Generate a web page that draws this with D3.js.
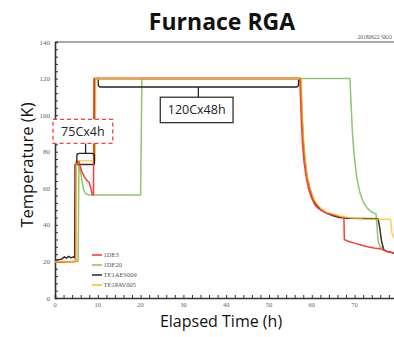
<!DOCTYPE html>
<html><head><meta charset="utf-8">
<script src="https://cdn.jsdelivr.net/npm/d3@7"></script>
<style>html,body{margin:0;padding:0;background:#fff;}svg{display:block;}</style>
</head><body>
<svg id="c" width="394" height="337"></svg>
<script>
// ---- data (time in h, temperature in K) ----
const seriesNames = ["1DE3", "1DE20", "TE1AES009", "TE1PAV005"];
const seriesColors = ["#ff3b3b", "#8cc774", "#333333", "#ffc21a"];
const red1DE3 = [[0,19.5],[1.5,19.5],[4.8,20],[4.9,74],[5.6,75],[5.9,72],[6.3,69],[6.8,66.5],[7.4,64.5],[8.0,63],[8.4,60],[8.7,56.5],[9.0,56.5],[9.1,120],[57.2,120],[57.5,100],[57.8,85],[58.2,74],[58.7,66],[59.2,60],[59.9,55],[60.7,51],[61.5,49],[62.5,47.5],[63.5,46.5],[65,45.5],[66.5,44.5],[67.5,44],[67.6,32],[68.5,31],[70,30],[71.5,29],[73,28],[74.5,27.3],[76,27],[77,26],[78,25],[80,24.5]];
const green1DE20 = [[0,20],[5.4,20],[5.6,74],[5.9,70],[6.3,64],[6.7,59],[7.2,57],[8,56.3],[20,56.3],[20.3,120],[68.9,120],[69.2,105],[69.5,90],[69.9,78],[70.5,66],[71.2,58],[72,52.5],[73,49],[74,47],[75,46],[75.2,40],[75.5,31],[75.9,28],[76.5,27.5]];
const blackTE1AES009 = [[0,20.5],[1,21],[1.7,21.5],[2.2,22.5],[2.7,21.8],[3.2,22.8],[3.7,22],[4.3,22.5],[4.6,22],[4.7,73],[9.2,73],[9.3,120],[57.4,120],[57.7,100],[58.0,86],[58.4,75],[58.9,66],[59.5,60],[60.3,54],[61,51],[62,48.5],[63.5,46.3],[65,45],[66.5,44],[68.3,43.6],[72,43.5],[75.5,43.3],[75.9,38],[76.3,31],[76.8,26.5],[77.5,25.5],[78.5,25],[80,24]];
const yellowTE1PAV005 = [[0,19.8],[4.9,20],[5.0,75],[9.4,75],[9.5,120],[57.5,120],[57.8,100],[58.1,86],[58.5,75],[59,66],[59.6,60],[60.4,54.5],[61.2,51.5],[62.2,49],[63.5,47],[65,46],[66.5,45],[68.5,44],[72,43.2],[76,43],[78.4,43],[78.7,36],[79.1,33],[80,32]];
const xTicks = [0,10,20,30,40,50,60,70];
const yTicks = [0,20,40,60,80,100,120,140];
const titleText = "Furnace RGA";
const xLabel = "Elapsed Time (h)";
const yLabel = "Temperature (K)";
const stamp = "20180622 SKO";
const ann75 = {label:"75Cx4h", box:[-0.47,13.5,97.7,84.6], br:[5.1,9.2,79.1,73.5]};
const ann120 = {label:"120Cx48h", box:[24.6,41.6,109.8,95.9], br:[10.1,56.9,115.4,119.4]};

const svg = d3.select("#c");
const x = d3.scaleLinear().domain([0,80]).range([55, 55 + 4.28*80]);
const y = d3.scaleLinear().domain([0,140]).range([298, 42]);

// title
svg.append("text").attr("x",222).attr("y",30).attr("text-anchor","middle")
  .attr("font-family","'Open Sans', sans-serif").attr("font-weight",700).attr("font-size",23)
  .attr("fill","#111").text(titleText);

// stamp
svg.append("text").attr("x",392).attr("y",38.5).attr("text-anchor","end")
  .attr("font-family","'Liberation Serif', serif").attr("font-size",5.5).attr("fill","#555").text(stamp);

// frame top line
svg.append("line").attr("x1",x(0)).attr("x2",394).attr("y1",y(140)).attr("y2",y(140))
  .attr("stroke","#555").attr("stroke-width",1.2);

// axes
const xAxis = d3.axisBottom(x).tickValues(d3.range(0,81,2)).tickSize(-3).tickFormat("");
const gx = svg.append("g").attr("transform",`translate(0,${y(0)})`).call(xAxis);
const yAxis = d3.axisLeft(y).tickValues(d3.range(0,141,4)).tickSize(-3).tickFormat("");
const gy = svg.append("g").attr("transform",`translate(${x(0)},0)`).call(yAxis);
[gx,gy].forEach(g=>{
  g.select(".domain").attr("stroke","#333").attr("stroke-width",1.6);
  g.selectAll(".tick line").attr("stroke","#333").attr("stroke-width",1);
});
svg.selectAll(".xl").data(xTicks).join("text").attr("class","xl")
  .attr("x",d=>x(d)).attr("y",y(0)+9).attr("text-anchor","middle")
  .attr("font-family","'Liberation Serif', serif").attr("font-size",6.5).attr("fill","#666").text(d=>d);
svg.selectAll(".yl").data(yTicks).join("text").attr("class","yl")
  .attr("x",x(0)-5).attr("y",d=>y(d)+2.5).attr("text-anchor","end")
  .attr("font-family","'Liberation Serif', serif").attr("font-size",7).attr("fill","#666").text(d=>d);

// axis titles
svg.append("text").attr("x",221).attr("y",327).attr("text-anchor","middle")
  .attr("font-family","'Open Sans', sans-serif").attr("font-size",16).attr("fill","#111").text(xLabel);
svg.append("text").attr("transform","translate(33,165) rotate(-90)").attr("text-anchor","middle")
  .attr("font-family","'Open Sans', sans-serif").attr("font-size",16.5).attr("fill","#111").text(yLabel);

// series
const line = d3.line().x(d=>x(d[0])).y(d=>y(d[1]));
const allSeries = [green1DE20, blackTE1AES009, red1DE3, yellowTE1PAV005];
const order = [1,2,0,3];
allSeries.forEach((s,i)=>{
  const k = order[i];
  svg.append("path").datum(s).attr("d",line).attr("fill","none")
    .attr("stroke",seriesColors[k]).attr("stroke-width",1.5)
    .attr("stroke-opacity", k===3 ? 0.75 : 1).attr("stroke-linejoin","round");
});

// legend
const lg = svg.append("g");
seriesNames.forEach((n,i)=>{
  const yy = 255 + i*10;
  lg.append("line").attr("x1",92).attr("x2",102).attr("y1",yy).attr("y2",yy)
    .attr("stroke",seriesColors[i]).attr("stroke-width",1.6);
  lg.append("text").attr("x",103.5).attr("y",yy+2.3).attr("font-family","'Liberation Serif', serif")
    .attr("font-size",6.5).attr("fill","#555").text(n);
});

// annotations
function bracket(a, up){
  const [t0,t1,kb,ke] = a.br;
  const x0=x(t0), x1=x(t1), yb=y(kb), ye=y(ke), xm=(x0+x1)/2;
  const r = 2.5*(ye>yb?1:-1);
  const p = `M${x0},${ye} L${x0},${yb+r} Q${x0},${yb} ${x0+2.5},${yb} L${x1-2.5},${yb} Q${x1},${yb} ${x1},${yb+r} L${x1},${ye}`;
  svg.append("path").attr("d",p).attr("fill","none").attr("stroke","#222").attr("stroke-width",1.3);
  const bx = a.box;
  const stemEnd = up ? y(bx[3]) : y(bx[2]);
  svg.append("line").attr("x1",xm).attr("x2",xm).attr("y1",yb).attr("y2",stemEnd).attr("stroke","#222").attr("stroke-width",1.3);
}
function box(a, dashed){
  const bx=a.box;
  svg.append("rect").attr("x",x(bx[0])).attr("y",y(bx[2])).attr("width",x(bx[1])-x(bx[0])).attr("height",y(bx[3])-y(bx[2]))
    .attr("fill","#fff").attr("stroke",dashed?"#ff3b3b":"#333").attr("stroke-width",1.3)
    .attr("stroke-dasharray",dashed?"4,3":null);
  svg.append("text").attr("x",(x(bx[0])+x(bx[1]))/2).attr("y",(y(bx[2])+y(bx[3]))/2+4.5).attr("text-anchor","middle")
    .attr("font-family","'Open Sans', sans-serif").attr("font-size",12.5).attr("fill","#222").text(a.label);
}
bracket(ann75, true);
bracket(ann120, false);
box(ann75, true);
box(ann120, false);
</script>
</body></html>
